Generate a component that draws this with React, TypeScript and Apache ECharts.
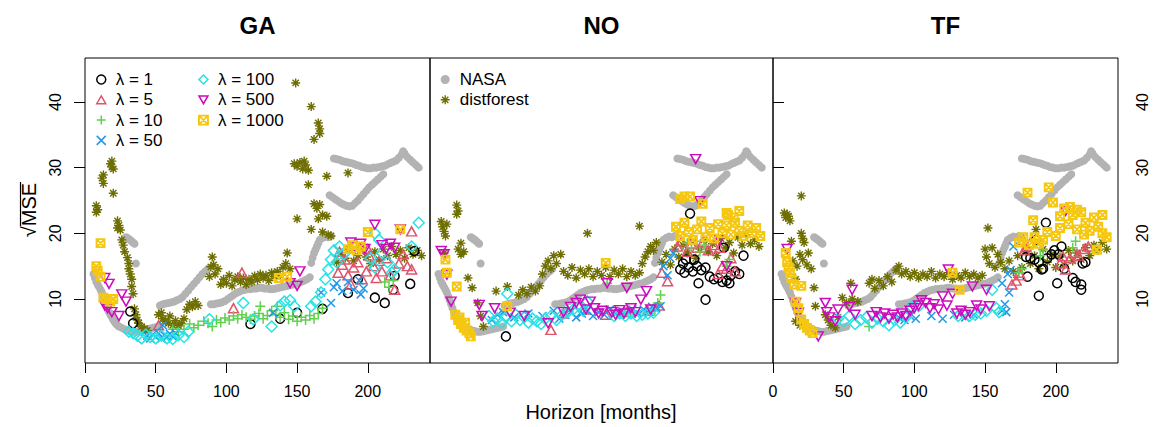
import React, { useEffect, useRef } from 'react';
import * as echarts from 'echarts';

const FONT = '"Liberation Sans", Arial, Helvetica, sans-serif';

const panelTitles = ['GA', 'NO', 'TF'];
const xTicks = [0, 50, 100, 150, 200];
const yTicks = [10, 20, 30, 40];
const lambdaNames = ['λ = 1', 'λ = 5', 'λ = 10', 'λ = 50', 'λ = 100', 'λ = 500', 'λ = 1000'];
const refNames = ['NASA', 'distforest'];

// NASA reference (identical in all panels)
const nasa = [
  [6,13.8],[7,13.2],[8,12.6],[9,12.2],[10,11.8],[11,11.4],[12,11.0],[13,10.4],[14,9.8],[15,9.2],[16,8.6],[17,8.0],[18,7.6],[19,7.2],[20,6.8],[21,6.5],[22,6.2],[23,6.0],[24,5.8],[26,5.6],[28,5.4],[30,5.2],[32,5.1],[34,5.0],[36,5.0],[38,5.1],[40,5.2],[42,5.3],[44,5.4],[46,5.5],[48,5.6],[50,5.7],[52,5.8],
  [29,19.4],[30,19.3],[31,19.1],[32,19.0],[33,18.8],[34,18.6],[35,18.4],[36,15.4],
  [53,9.0],[55,9.2],[57,9.3],[59,9.4],[61,9.5],[63,9.6],[65,9.8],[67,10.0],[69,10.3],[71,10.8],[73,11.3],[75,11.8],[77,12.3],[79,12.8],[81,13.3],[83,13.8],[85,14.2],[87,14.6],
  [89,9.2],[91,9.2],[93,9.3],[95,9.4],[97,9.5],[99,9.7],[101,10.0],[103,10.3],[105,10.6],[107,10.9],[109,11.1],[111,11.3],[113,11.4],[115,11.5],[117,11.5],[119,11.6],[121,11.6],[123,11.7],[125,11.7],[127,11.6],[129,11.6],[131,11.5],[133,11.5],[135,11.6],[137,11.7],[139,11.8],[141,11.9],[143,12.0],[145,12.1],[147,12.2],[149,12.3],[151,12.4],[153,12.6],[155,12.8],[157,13.0],[159,13.3],
  [160,15.5],[161,16.3],[162,17.0],[163,17.5],[164,18.0],[165,18.5],[166,19.0],[168,19.3],[170,19.5],[172,19.4],[174,19.6],
  [173,25.8],[175,25.5],[177,25.2],[179,24.9],[181,24.6],[183,24.4],[185,24.2],[187,24.1],[189,24.2],[191,24.6],[193,25.0],[195,25.5],[197,26.0],[199,26.5],[201,27.0],[203,27.4],[205,27.8],[207,28.2],[209,28.6],[211,29.0],
  [176,31.4],[178,31.3],[180,31.2],[182,31.0],[184,30.9],[186,30.8],[188,30.7],[190,30.6],[192,30.4],[194,30.3],[196,30.1],[198,30.0],[200,29.9],[202,29.9],[204,30.0],[206,30.0],[208,30.1],[210,30.2],[212,30.3],[214,30.5],[216,30.7],[218,30.9],[220,31.1],[222,31.5],[224,32.0],[225,32.5],[226,32.2],[228,31.6],[230,31.2],[232,30.8],[234,30.4],[236,30.0]
];

// GA panel
const gaDistforest = [
  [8,24.2],[9,23.6],[8,23.2],[12,28.4],[13,27.6],[13,28.9],[18,30.6],[19,30.1],[20,29.8],[19,31.0],[20,26.1],
  [23,21.9],[24,21.2],[25,20.5],[23,20.8],[26,19.0],[27,18.2],[28,17.2],[30,16.3],[31,15.4],[31,14.6],[32,13.8],[33,13.0],[33,11.9],[34,10.8],
  [35,8.5],[36,7.6],[37,6.8],[38,6.3],[40,5.8],[42,5.5],[44,5.2],
  [52,7.6],[54,7.9],[55,7.0],[57,6.6],[59,6.3],[60,7.4],[62,6.0],[64,6.7],[66,5.9],[68,6.3],[70,7.0],[72,8.4],[74,9.2],[76,8.8],[78,9.6],[80,9.0],
  [88,13.4],[89,14.9],[90,16.4],[91,15.2],[92,13.8],[94,14.6],[96,12.2],[98,13.0],[100,12.4],[102,13.6],[104,12.0],
  [106,12.9],[108,13.4],[110,12.6],[112,13.2],[114,12.2],[116,13.0],[118,12.6],[120,13.5],[122,12.9],[124,13.8],[126,13.2],[128,13.6],[130,12.8],[132,14.0],[134,13.4],[136,14.2],[138,13.6],
  [140,14.8],[142,15.4],[143,17.0],[145,14.6],
  [149,42.9],[160,39.3],[165,36.8],[166,35.9],[166,35.2],[162,34.3],[148,30.6],[150,30.2],[152,30.8],[154,29.8],[156,30.4],[158,29.6],[155,31.0],[158,27.4],[171,28.7],[186,29.2],
  [162,24.5],[164,23.8],[166,24.4],[168,22.8],[165,22.2],[150,22.2],[160,20.6],[171,22.6],[168,20.2],[172,19.8],[174,19.6],
  [178,15.6],[181,17.0],[184,16.2],[187,17.6],[190,15.8],[193,16.6],[196,17.8],[199,16.4],[202,15.4],[205,17.2],[208,16.0],[211,17.6],[214,16.6],[217,18.0],[220,16.8],[223,17.4],[226,16.2],[229,17.8],[232,16.8],[235,17.4],[238,16.6]
];
const gaL1 = [[32,8.1],[34,6.3],[117,6.2],[138,7.0],[150,7.9],[168,8.5],[186,10.9],[193,13.0],[205,10.2],[212,9.4],[219,13.5],[230,12.3],[233,17.3],[218,11.4]];
const gaL5 = [[111,14.0],[105,8.6],[52,6.0],[231,20.3],[231,14.5],[179,14.0],[182,15.2],[184,16.0],[186,13.6],[188,12.2],[190,14.8],[193,15.6],[196,13.0],[199,14.2],[201,16.6],[204,15.0],[206,13.2],[208,15.8],[210,14.2],[213,16.2],[216,13.6],[219,11.4],[222,15.4],[225,16.8],[228,15.0],[180,17.2],[200,17.6]];
const gaL10 = [[62,5.4],[66,5.0],[70,5.4],[74,6.2],[77,5.6],[80,6.0],[84,6.6],[87,6.3],[90,5.8],[93,6.8],[96,6.4],[99,7.1],[102,6.8],[105,7.4],[108,7.0],[111,7.6],[114,7.2],[117,6.9],[120,7.4],[123,7.8],[124,8.9],[126,7.0],[129,7.5],[132,8.2],[135,7.6],[136,8.9],[138,7.2],[141,7.9],[144,6.9],[147,7.4],[150,6.6],[153,7.2],[156,6.8],[159,7.5],[162,7.0],[165,7.8],[168,8.6],[212,12.6],[215,11.8],[218,12.8]];
const gaL50 = [[44,4.4],[46,4.0],[48,4.6],[50,4.2],[52,4.8],[54,4.0],[56,4.5],[58,4.2],[60,4.7],[62,4.3],[64,4.8],[55,6.0],[133,7.9],[167,11.0],[174,9.4],[176,11.8],[178,12.4],[182,11.2],[186,12.6],[190,11.4],[194,12.8],[195,10.7],[197,11.6]];
const gaL100 = [[31,5.0],[34,4.8],[37,4.4],[40,4.0],[43,4.6],[46,4.2],[50,4.0],[54,4.4],[58,4.0],[62,3.9],[66,4.5],[70,4.2],[73,5.0],[88,6.9],[112,9.4],[119,6.9],[132,5.8],[138,9.0],[141,9.6],[145,9.8],[148,8.9],[160,8.9],[163,9.6],[167,11.0],[170,13.0],[172,14.5],[174,16.0],[176,17.4],[178,15.6],[180,18.0],[205,20.0],[208,19.0],[236,21.6],[231,18.0],[202,16.2],[205,14.8],[210,17.0],[214,15.6],[217,14.0],[219,14.5],[183,16.8]];
const gaL500 = [[14,13.2],[17,12.3],[14,9.0],[16,8.6],[19,8.0],[26,10.7],[29,9.6],[24,7.4],[152,14.2],[150,12.0],[145,12.4],[205,21.3],[223,20.6],[188,18.6],[191,17.8],[195,18.4],[198,17.6],[210,18.2],[213,17.6],[216,18.4],[219,17.8]];
const gaL1000 = [[11,18.5],[8,15.0],[9,14.3],[11,13.4],[13,10.2],[15,10.0],[18,9.6],[20,10.0],[137,13.2],[143,13.4],[200,20.2],[186,17.6],[189,18.2],[192,17.4],[195,18.0],[223,20.6]];

// NO panel
const noDistforest = [
  [19,24.3],[20,23.4],[19,22.9],[8,21.8],[9,21.0],[10,20.3],[11,19.6],[12,21.4],[22,18.5],[20,17.6],[22,16.8],[24,17.2],[10,17.0],[27,13.2],[30,11.7],[34,9.4],[36,7.4],[38,5.8],[47,11.2],[55,11.9],
  [63,10.6],[66,11.4],[69,10.8],[72,11.8],[75,11.2],[78,12.0],[80,13.8],[82,15.0],[84,15.8],[86,14.6],[88,16.6],[90,15.4],[93,16.8],
  [95,14.2],[98,13.6],[101,14.8],[104,13.2],[107,14.4],[110,13.8],[113,14.6],[116,13.4],[119,14.2],[122,13.6],[125,14.8],[128,13.4],[131,14.4],[134,13.8],[137,14.6],[140,13.4],[143,14.2],[146,13.6],[149,14.0],
  [112,20.0],[149,21.1],[151,15.4],[153,16.4],[155,17.2],[157,18.0],[159,17.4],[161,18.6],
  [165,15.6],[168,16.8],[171,15.2],[174,17.6],[177,16.4],[180,18.2],[183,17.0],[186,18.8],[189,16.2],[192,17.6],[195,19.0],[198,17.2],[201,18.4],[204,16.6],[207,19.2],[210,17.8],[213,18.6],[216,17.0],[219,19.4],[222,18.2],[225,19.8],[228,18.4],[231,19.0],[234,18.0]
];
const noL1 = [[54,4.3],[185,23.0],[196,9.9],[178,14.5],[181,14.0],[184,14.8],[187,14.2],[190,15.0],[193,14.4],[196,14.8],[199,13.4],[202,13.0],[205,13.2],[208,12.6],[211,12.8],[214,13.6],[217,14.2],[220,13.8],[223,16.6],[209,17.8],[182,16.0],[180,15.4],[188,16.0],[191,12.4],[213,12.4]];
const noL5 = [[86,5.3],[95,7.8],[110,8.4],[125,7.6],[140,8.0],[155,8.2],[163,9.0],[165,14.0],[169,12.7],[176,18.0],[179,18.8],[183,17.2],[186,18.4],[190,17.8],[194,18.6],[198,17.4],[202,18.2],[206,17.8],[208,15.0],[211,14.6],[214,16.2],[217,14.2],[205,13.8]];
const noL10 = [[126,12.4],[183,18.5],[186,17.8],[189,18.8],[192,17.2],[195,18.2],[211,15.0],[213,16.0],[160,8.2],[162,9.4],[164,10.6]];
const noL50 = [[44,6.8],[48,7.6],[52,8.0],[60,7.2],[70,7.8],[80,7.4],[88,8.2],[92,7.0],[96,7.6],[100,8.0],[104,7.2],[108,7.8],[112,8.2],[116,7.4],[120,8.0],[124,7.6],[128,8.4],[132,7.8],[136,8.2],[140,7.6],[144,8.4],[148,7.8],[152,8.4],[155,8.0],[158,8.8],[161,8.6],[164,8.9],[166,15.0],[173,17.0],[171,16.2],[169,13.6]];
const noL100 = [[55,10.8],[42,7.4],[45,6.6],[48,7.0],[51,6.4],[54,7.2],[58,6.6],[61,7.6],[64,6.8],[67,7.2],[70,6.4],[73,7.0],[76,6.6],[79,6.2],[82,7.0],[86,7.4],[90,6.8],[94,7.6],[98,8.0],[102,8.4],[106,8.9],[109,8.2],[112,9.6],[131,7.4],[135,7.8],[139,7.4],[143,7.8],[147,7.4],[151,7.6],[155,7.8],[159,7.9]];
const noL500 = [[8,17.3],[10,16.8],[12,13.7],[15,9.6],[35,9.1],[37,7.4],[46,8.6],[57,7.9],[67,7.4],[84,6.3],[95,8.0],[100,8.8],[104,9.4],[107,9.9],[111,8.4],[114,9.6],[117,8.6],[120,7.8],[123,8.2],[126,12.4],[129,8.0],[132,7.6],[135,8.3],[138,7.8],[140,11.7],[143,8.6],[146,8.0],[150,9.9],[154,11.2],[157,8.4],[189,31.3],[192,24.9],[206,19.0],[211,15.0]];
const noL1000 = [[11,16.0],[12,14.0],[19,11.9],[18,7.6],[20,6.8],[22,6.2],[24,5.6],[26,5.2],[28,4.8],[29,4.3],[21,7.2],[25,6.4],[55,8.9],[125,15.5],[178,25.2],[181,25.6],[185,25.6],[194,24.5],[211,23.1],[220,23.4],[175,21.0],[178,19.6],[181,21.6],[184,20.2],[187,19.0],[190,20.6],[193,21.8],[196,19.4],[199,20.8],[202,19.2],[205,21.4],[208,20.0],[211,21.2],[214,19.8],[217,21.6],[220,20.4],[223,19.6],[226,21.2],[229,20.0],[232,20.8],[235,19.6],[212,22.8],[216,22.4]];

// TF panel
const tfDistforest = [
  [20,25.7],[8,23.1],[9,22.4],[10,22.9],[12,21.9],[11,22.6],[20,20.0],[21,19.2],[22,18.6],[13,18.8],[19,16.8],[21,16.0],[24,15.2],[25,17.0],[27,14.6],[16,13.0],[14,15.8],[17,15.0],[29,11.7],[30,8.9],[16,6.6],[19,6.0],
  [37,7.6],[39,6.8],[41,6.0],[44,5.6],[46,7.2],[55,12.4],[49,10.2],[52,9.4],[56,10.0],[60,9.6],
  [68,12.4],[70,13.0],[72,11.6],[75,12.8],[78,12.0],[81,13.4],[84,12.6],
  [87,14.4],[89,15.0],[91,13.8],[94,14.2],[97,13.4],[100,14.0],[103,13.2],[106,13.8],[109,13.4],[112,14.2],[115,13.2],[118,13.8],[121,13.4],[124,14.0],[127,13.0],[130,13.6],[133,13.2],[136,14.0],[139,13.4],[142,13.8],[145,13.2],[148,13.6],
  [152,20.8],[150,17.6],[151,16.4],[153,15.4],[155,17.8],[157,14.8],[159,16.8],[161,15.6],
  [164,14.6],[167,15.8],[170,14.2],[173,16.6],[176,14.8],[179,17.2],[182,15.4],[185,16.6],[188,14.6],[191,17.6],[194,15.6],[197,16.8],[200,14.8],[203,16.4],[206,15.2],[209,17.4],[212,15.8],[215,17.0],[218,16.0],[221,17.8],[224,16.6],[227,18.2],[230,17.4],[233,18.6],[236,17.6],[186,20.6]
];
const tfL1 = [[193,21.6],[186,19.0],[179,16.4],[182,16.2],[185,16.0],[188,15.6],[191,14.6],[194,16.2],[188,10.5],[190,14.5],[197,16.8],[201,12.4],[204,18.0],[202,16.8],[212,13.2],[218,12.2],[218,11.4],[219,15.4],[180,13.4],[199,17.4],[206,14.6],[221,15.6],[214,12.6]];
const tfL5 = [[169,12.2],[172,12.8],[175,13.6],[177,19.0],[179,18.0],[205,16.5],[207,14.5],[210,16.2],[213,17.0],[220,17.6],[174,14.0],[178,17.4],[203,15.4],[216,16.6],[223,18.0],[182,18.6]];
const tfL10 = [[68,5.8],[191,17.5],[214,18.8],[174,14.0],[189,16.6],[176,14.6],[212,17.8]];
const tfL50 = [[89,7.2],[93,6.8],[97,7.4],[101,7.0],[112,7.4],[120,7.0],[128,7.6],[136,7.2],[142,7.6],[162,8.2],[164,9.2],[165,8.0],[167,11.0],[170,18.0],[162,12.4],[166,13.8],[168,14.4]];
const tfL100 = [[46,7.0],[50,6.6],[54,7.4],[58,6.2],[62,6.8],[66,7.2],[70,6.4],[74,7.0],[78,6.6],[82,6.0],[86,6.8],[90,6.4],[94,7.2],[98,8.8],[103,8.9],[131,7.4],[135,7.8],[139,7.4],[143,7.6],[147,7.8],[151,8.2],[155,11.4],[158,8.6],[160,8.0]];
const tfL500 = [[10,17.6],[16,9.4],[18,7.9],[32,4.3],[37,9.4],[38,8.0],[40,7.2],[44,6.6],[46,8.4],[56,11.4],[54,8.8],[58,7.6],[70,7.4],[73,8.0],[76,7.2],[79,7.8],[82,7.0],[85,7.6],[88,7.2],[91,7.8],[94,7.4],[97,8.2],[100,8.6],[103,9.0],[105,9.8],[108,9.4],[111,8.6],[114,9.2],[117,8.4],[120,10.4],[123,9.0],[124,14.5],[127,10.8],[130,7.8],[133,8.2],[136,7.6],[139,8.0],[141,11.9],[144,9.0],[147,8.4],[151,11.4],[153,8.9],[207,23.4]];
const tfL1000 = [[9,17.0],[10,15.6],[11,14.8],[12,14.0],[13,13.2],[15,12.2],[20,12.0],[16,9.6],[18,8.6],[20,6.9],[22,6.2],[24,5.6],[26,5.2],[28,4.8],[132,11.4],[127,14.0],[180,26.2],[195,27.0],[198,24.7],[184,22.0],[174,18.6],[177,19.4],[181,18.2],[185,19.4],[188,18.4],[203,22.6],[206,23.8],[209,21.4],[212,22.8],[215,20.6],[218,23.2],[221,21.6],[224,20.4],[227,22.4],[230,21.0],[233,22.8],[236,19.4],[229,17.5],[200,19.6],[203,20.8],[210,24.0],[215,23.6],[220,19.8],[233,20.0],[194,20.2],[191,19.0]];

const panelLambda = [
  [gaL1, gaL5, gaL10, gaL50, gaL100, gaL500, gaL1000],
  [noL1, noL5, noL10, noL50, noL100, noL500, noL1000],
  [tfL1, tfL5, tfL10, tfL50, tfL100, tfL500, tfL1000],
];
const panelDistforest = [gaDistforest, noDistforest, tfDistforest];

// marker styles (R pch 1..8 and 16)
const lambdaStyles = [
  { symbol: 'circle', size: 9, color: '#000000', lw: 1.5 },
  { symbol: 'path://M5,0L10,8.66L0,8.66Z', size: [10, 9], color: '#DF536B', lw: 1.5 },
  { symbol: 'path://M5,0L5,10M0,5L10,5', size: 10, color: '#61D04F', lw: 1.5 },
  { symbol: 'path://M0,0L10,10M10,0L0,10', size: 8, color: '#2297E6', lw: 1.5 },
  { symbol: 'path://M5,0L10,5L5,10L0,5Z', size: 11, color: '#28E2E5', lw: 1.5 },
  { symbol: 'path://M0,0L10,0L5,8.66Z', size: [10, 9], color: '#CD0BBC', lw: 1.5 },
  { symbol: 'path://M0,0L10,0L10,10L0,10ZM0,0L10,10M10,0L0,10', size: 8, color: '#F5C710', lw: 1.9 },
];
const nasaStyle = { symbol: 'circle', size: 8, color: '#B3B3B3', lw: 0 };
const dfStyle = { symbol: 'path://M5,0L5,10M0,5L10,5M1.5,1.5L8.5,8.5M8.5,1.5L1.5,8.5', size: 9, color: '#6E6E00', lw: 1.4 };

function scatter(name: string, data: number[][], gi: number, st: any, filled: boolean) {
  return {
    type: 'scatter',
    name,
    xAxisIndex: gi,
    yAxisIndex: gi,
    data,
    symbol: st.symbol,
    symbolSize: st.size,
    silent: true,
    emphasis: { disabled: true },
    itemStyle: filled
      ? { color: st.color, opacity: 1 }
      : { color: 'rgba(0,0,0,0)', borderColor: st.color, borderWidth: st.lw, opacity: 1 },
  };
}

function legendItem(name: string, st: any, filled: boolean) {
  return {
    name,
    icon: st.symbol,
    itemStyle: filled
      ? { color: st.color, borderWidth: 0 }
      : { color: 'rgba(0,0,0,0)', borderColor: st.color, borderWidth: st.lw },
  };
}

const grids = [
  { left: 85, top: 58, width: 345, height: 305 },
  { left: 430, top: 58, width: 343, height: 305 },
  { left: 773, top: 58, width: 345, height: 305 },
];

export default function App() {
  const ref = useRef<HTMLDivElement>(null);
  useEffect(() => {
    if (!ref.current) return;
    const chart = echarts.init(ref.current, undefined, { renderer: 'svg' });
    const series: any[] = [];
    for (let p = 0; p < 3; p++) {
      series.push(scatter(refNames[0], nasa, p, nasaStyle, true));
      series.push(scatter(refNames[1], panelDistforest[p], p, dfStyle, false));
      for (let k = 0; k < lambdaNames.length; k++) {
        series.push(scatter(lambdaNames[k], panelLambda[p][k], p, lambdaStyles[k], false));
      }
    }
    const legendText = { fontSize: 17, lineHeight: 17, color: '#000', fontFamily: FONT, padding: [0, 0, 0, 5] };
    const legendBase = {
      orient: 'vertical',
      itemWidth: 9,
      itemHeight: 9,
      itemGap: 3.3,
      selectedMode: false,
      symbolKeepAspect: true,
      textStyle: legendText,
      padding: 0,
    };
    const option: any = {
      animation: false,
      backgroundColor: '#ffffff',
      grid: grids.map((g) => ({ ...g, show: true, borderColor: '#000', borderWidth: 1, backgroundColor: 'rgba(0,0,0,0)' })),
      xAxis: grids.map((g, i) => ({
        type: 'value',
        gridIndex: i,
        min: 0,
        max: 244,
        axisLine: { show: false },
        splitLine: { show: false },
        axisTick: { show: i !== 1, length: 10, customValues: xTicks, lineStyle: { color: '#000', width: 1 } },
        axisLabel: { show: i !== 1, customValues: xTicks, fontSize: 16, color: '#000', fontFamily: FONT, margin: 20 },
      })),
      yAxis: grids.map((g, i) => ({
        type: 'value',
        gridIndex: i,
        min: 0.25,
        max: 46.7,
        position: i === 2 ? 'right' : 'left',
        axisLine: { show: false },
        splitLine: { show: false },
        axisTick: { show: i !== 1, length: 11, customValues: yTicks, lineStyle: { color: '#000', width: 1 } },
        axisLabel: { show: i !== 1, customValues: yTicks, rotate: 90, fontSize: 16, color: '#000', fontFamily: FONT, margin: i === 2 ? 16 : 22 },
      })),
      legend: [
        { ...legendBase, left: 96, top: 71, data: [0, 1, 2, 3].map((k) => legendItem(lambdaNames[k], lambdaStyles[k], false)) },
        { ...legendBase, left: 198, top: 71, data: [4, 5, 6].map((k) => legendItem(lambdaNames[k], lambdaStyles[k], false)) },
        { ...legendBase, left: 440, top: 71, data: [legendItem(refNames[0], nasaStyle, true), legendItem(refNames[1], dfStyle, false)] },
      ],
      graphic: [
        ...panelTitles.map((t, i) => ({
          type: 'text',
          x: grids[i].left + grids[i].width / 2,
          y: 25,
          style: { text: t, font: `bold 24px ${FONT}`, textAlign: 'center', textVerticalAlign: 'middle', fill: '#000' },
        })),
        {
          type: 'text',
          x: 601,
          y: 412,
          style: { text: 'Horizon [months]', font: `20px ${FONT}`, textAlign: 'center', textVerticalAlign: 'middle', fill: '#000' },
        },
        {
          type: 'text',
          x: 29,
          y: 210,
          rotation: Math.PI / 2,
          style: { text: '√MSE', font: `20px ${FONT}`, textAlign: 'center', textVerticalAlign: 'middle', fill: '#000' },
        },
        {
          type: 'line',
          shape: { x1: 20.5, y1: 182, x2: 20.5, y2: 226 },
          style: { stroke: '#000', lineWidth: 1.2 },
        },
      ],
      series,
    };
    chart.setOption(option);
    return () => chart.dispose();
  }, []);
  return <div ref={ref} style={{ position: 'fixed', left: 0, top: 0, width: 1163, height: 427, background: '#fff' }} />;
}
